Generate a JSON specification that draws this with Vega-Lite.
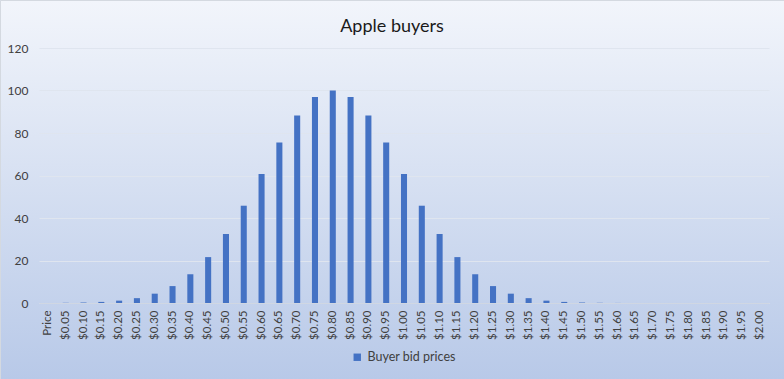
{
  "$schema": "https://vega.github.io/schema/vega-lite/v6.json",
  "width": 784,
  "height": 379,
  "autosize": "none",
  "padding": 0,
  "background": "#d3def1",
  "title": {
    "text": "Apple buyers",
    "fontSize": 18,
    "font": "Lato",
    "fontWeight": "normal",
    "color": "#1a1a1a",
    "baseline": "alphabetic",
    "offset": -50
  },
  "data": {
    "values": [
      {"price": "Price", "bid": 0},
      {"price": "$0.05", "bid": 0.09},
      {"price": "$0.10", "bid": 0.22},
      {"price": "$0.15", "bid": 0.51},
      {"price": "$0.20", "bid": 1.11},
      {"price": "$0.25", "bid": 2.28},
      {"price": "$0.30", "bid": 4.39},
      {"price": "$0.35", "bid": 7.96},
      {"price": "$0.40", "bid": 13.53},
      {"price": "$0.45", "bid": 21.6},
      {"price": "$0.50", "bid": 32.47},
      {"price": "$0.55", "bid": 45.78},
      {"price": "$0.60", "bid": 60.65},
      {"price": "$0.65", "bid": 75.48},
      {"price": "$0.70", "bid": 88.25},
      {"price": "$0.75", "bid": 96.92},
      {"price": "$0.80", "bid": 100},
      {"price": "$0.85", "bid": 96.92},
      {"price": "$0.90", "bid": 88.25},
      {"price": "$0.95", "bid": 75.48},
      {"price": "$1.00", "bid": 60.65},
      {"price": "$1.05", "bid": 45.78},
      {"price": "$1.10", "bid": 32.47},
      {"price": "$1.15", "bid": 21.6},
      {"price": "$1.20", "bid": 13.53},
      {"price": "$1.25", "bid": 7.96},
      {"price": "$1.30", "bid": 4.39},
      {"price": "$1.35", "bid": 2.28},
      {"price": "$1.40", "bid": 1.11},
      {"price": "$1.45", "bid": 0.51},
      {"price": "$1.50", "bid": 0.22},
      {"price": "$1.55", "bid": 0.09},
      {"price": "$1.60", "bid": 0.03},
      {"price": "$1.65", "bid": 0.01},
      {"price": "$1.70", "bid": 0},
      {"price": "$1.75", "bid": 0},
      {"price": "$1.80", "bid": 0},
      {"price": "$1.85", "bid": 0},
      {"price": "$1.90", "bid": 0},
      {"price": "$1.95", "bid": 0},
      {"price": "$2.00", "bid": 0}
    ]
  },
  "mark": {"type": "bar", "color": "#4472c4"},
  "encoding": {
    "x": {
      "field": "price",
      "type": "nominal",
      "sort": null,
      "scale": {"range": [39, 769], "paddingInner": 0.66, "paddingOuter": 0.33},
      "axis": {
        "title": null,
        "offset": -76,
        "labelAngle": -90,
        "labelFontSize": 11.5,
        "labelFont": "Lato",
        "labelColor": "#404040",
        "labelPadding": 7,
        "ticks": false,
        "domainColor": "#d0d7e3",
        "domainWidth": 1
      }
    },
    "y": {
      "field": "bid",
      "type": "quantitative",
      "scale": {"domain": [0, 120], "range": [303, 48]},
      "axis": {
        "title": null,
        "offset": -39,
        "values": [0, 20, 40, 60, 80, 100, 120],
        "labelFontSize": 12,
        "labelFont": "Lato",
        "labelColor": "#404040",
        "labelPadding": 11,
        "ticks": false,
        "domain": false,
        "gridColor": "#dfe5ef",
        "gridWidth": 1
      }
    },
    "fill": {
      "datum": "Buyer bid prices",
      "type": "nominal",
      "scale": {"range": ["#4472c4"]},
      "legend": {
        "title": null,
        "orient": "none",
        "legendX": 351,
        "legendY": 351,
        "symbolType": "square",
        "symbolSize": 55,
        "symbolStrokeWidth": 0,
        "labelFontSize": 12.5,
        "labelFont": "Lato",
        "labelColor": "#404040",
        "labelOffset": 4
      }
    }
  },
  "config": {
    "view": {
      "stroke": "#d4d9e0",
      "strokeWidth": 1,
      "fill": {
        "gradient": "linear",
        "x1": 0, "y1": 0, "x2": 0, "y2": 1,
        "stops": [
          {"offset": 0, "color": "#f2f5fb"},
          {"offset": 1, "color": "#b8c9e8"}
        ]
      }
    }
  }
}
